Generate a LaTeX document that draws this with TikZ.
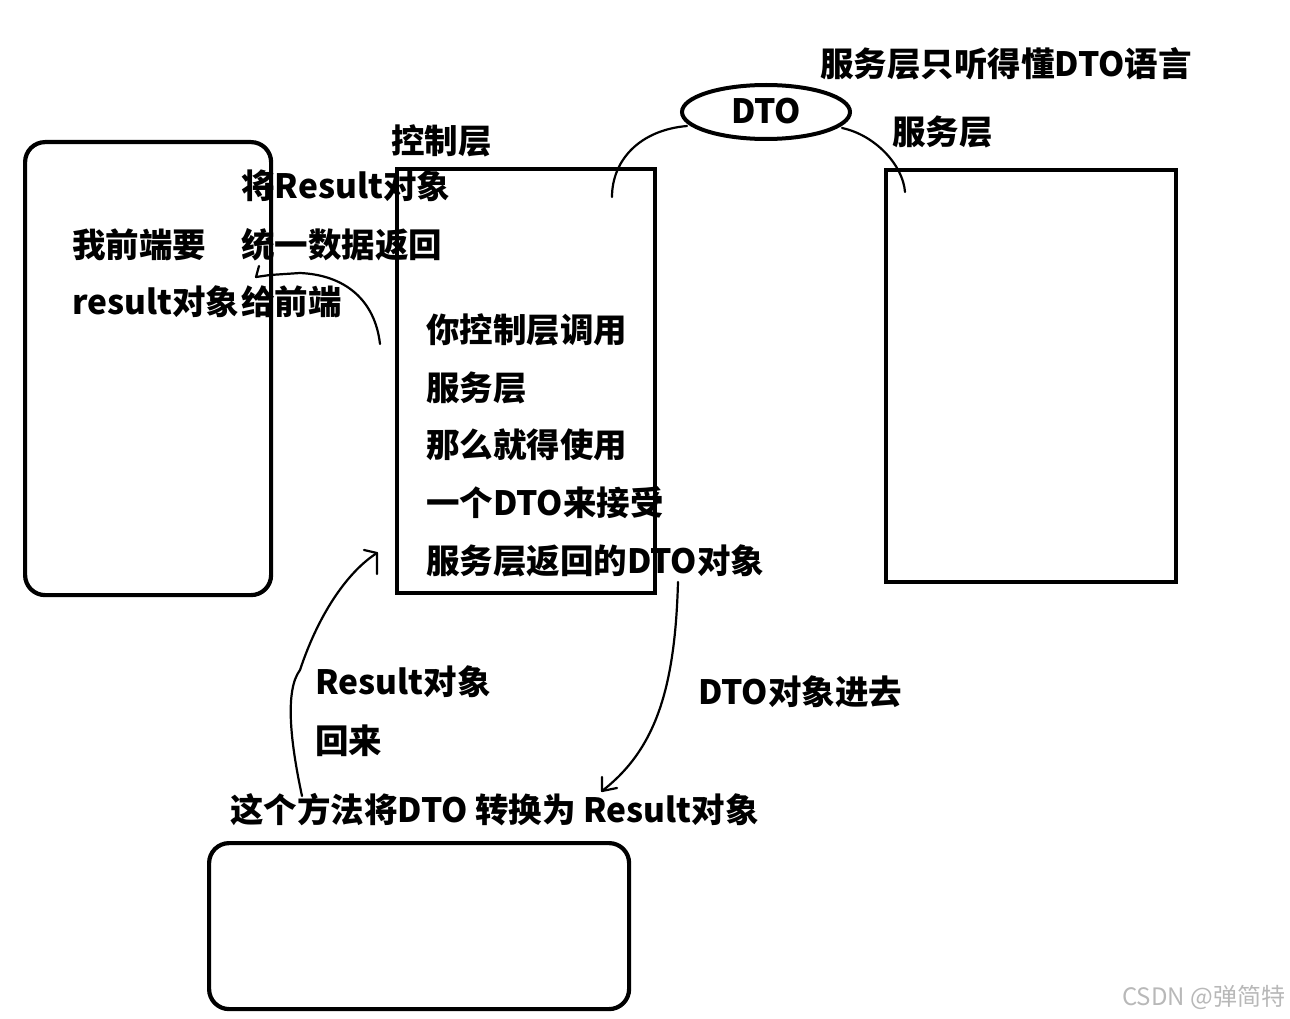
\documentclass[tikz,border=0pt]{standalone}
\usepackage{fontspec}
\usetikzlibrary{shapes.geometric}
\setmainfont{Noto Sans CJK SC}
\begin{document}
\begin{tikzpicture}[x=1pt,y=-1pt,
  box/.style={draw,line width=4.2pt},
  lbl/.style={anchor=west,inner sep=0pt,font=\fontsize{33.5}{33.5}\selectfont\bfseries,text height=28pt,text depth=4pt},
  curve/.style={line width=2.2pt,line cap=round,line join=round}]
\useasboundingbox (0,0) rectangle (1290,1019);
% boxes
\node[box,rounded corners=20pt,minimum width=246pt,minimum height=453pt,anchor=north west] (front) at (23,140) {};
\node[box,minimum width=258pt,minimum height=424pt,anchor=north west] (ctrl) at (395,167) {};
\node[box,minimum width=290pt,minimum height=412pt,anchor=north west] (svc) at (884,168) {};
\node[box,rounded corners=20pt,minimum width=420pt,minimum height=166pt,anchor=north west] (conv) at (207,841) {};
\node[draw,line width=4pt,ellipse,minimum width=168pt,minimum height=54pt,inner sep=0pt,font=\fontsize{33.5}{33.5}\selectfont\bfseries,text height=28pt,text depth=4pt] (dto) at (766,112) {DTO};
% labels
\node[lbl] (t1) at (820,65) {服务层只听得懂DTO语言};
\node[lbl] (t2) at (892,133) {服务层};
\node[lbl] (t3) at (391,142) {控制层};
\node[lbl] (t4) at (241,187) {将Result对象};
\node[lbl] (t5) at (72,245) {我前端要};
\node[lbl] (t6) at (241,245) {统一数据返回};
\node[lbl] (t7) at (72,302) {result对象};
\node[lbl] (t8) at (241,302) {给前端};
\node[lbl] (t9) at (426,330) {你控制层调用};
\node[lbl] (t10) at (426,388) {服务层};
\node[lbl] (t11) at (426,445) {那么就得使用};
\node[lbl] (t12) at (426,503) {一个DTO来接受};
\node[lbl] (t13) at (426,561) {服务层返回的DTO对象};
\node[lbl] (t14) at (315,682) {Result对象};
\node[lbl] (t15) at (315,741) {回来};
\node[lbl] (t16) at (698,692) {DTO对象进去};
\node[lbl] (t17) at (230,810) {这个方法将DTO 转换为 Result对象};
\node[anchor=west,inner sep=0pt,text=black!28,font=\fontsize{24}{24}\selectfont] (wm) at (1122,997) {CSDN @弹简特};
% connectors
\coordinate (a1s) at (380,344);
\coordinate (a1e) at (256,277);
\draw[curve] (a1s) .. controls (375,300) and (345,275) .. (300,273) -- (270,275) -- (a1e) -- (259,266);
\coordinate (a2s) at (302,796);
\coordinate (a2e) at (377,553);
\draw[curve] (a2s) .. controls (290,740) and (285,690) .. (300,670) .. controls (320,610) and (350,570) .. (a2e);
\draw[curve] (364,550) -- (a2e) -- (377,574);
\coordinate (a3s) at (678,582);
\coordinate (a3e) at (602,791);
\draw[curve] (a3s) .. controls (675,690) and (655,750) .. (a3e);
\draw[curve] (602,777) -- (a3e) -- (617,788);
\coordinate (c1) at (612,197);
\coordinate (c2) at (905,192);
\draw[curve] (687,126) .. controls (640,130) and (612,160) .. (c1);
\draw[curve] (842,128) .. controls (875,135) and (903,165) .. (c2);
\end{tikzpicture}
\end{document}
